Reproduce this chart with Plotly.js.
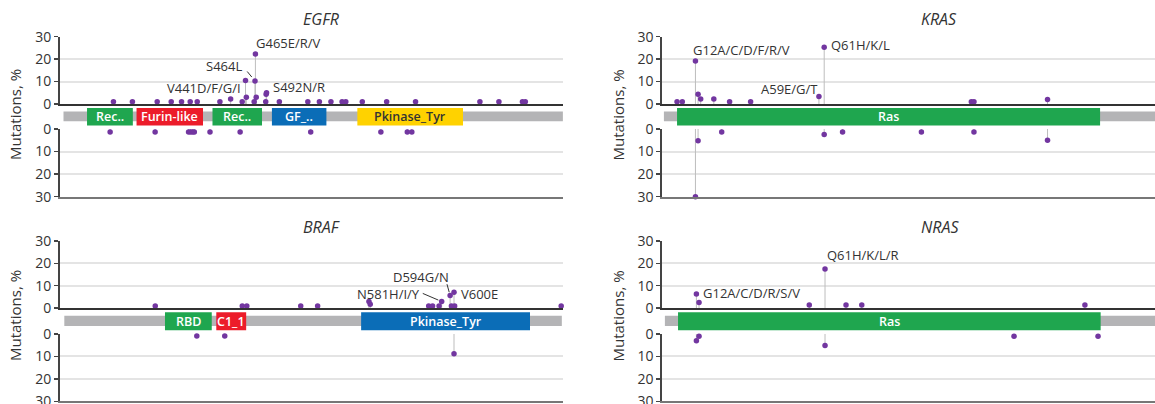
<!DOCTYPE html>
<html><head><meta charset="utf-8">
<script src="https://cdn.plot.ly/plotly-3.0.1.min.js"></script>
<style>html,body{margin:0;padding:0;background:#fff;overflow:hidden}#chart{width:1155px;height:404px}</style>
</head><body><div id="chart"></div>
<script>
// ---------------- DATA ----------------
// EGFR
const egfrLength = 1210;
const egfrDomainNames = ['Rec..', 'Furin-like', 'Rec..', 'GF_..', 'Pkinase_Tyr'];
const egfrDomainStart = [57, 177, 361, 505, 712];
const egfrDomainEnd = [168, 338, 481, 637, 968];
const egfrTopPos = [121, 167, 227, 261, 286, 307, 324, 379, 405, 433, 441, 443, 462, 464, 465, 467, 490, 491, 492, 523, 592, 620, 648, 675, 684, 724, 783, 853, 1009, 1055, 1112, 1119];
const egfrTopPct = [1.0, 1.0, 1.0, 1.0, 1.0, 1.0, 1.0, 1.0, 2.2, 1.0, 10.5, 3.0, 1.0, 10.3, 22.3, 3.0, 1.0, 4.4, 5.0, 1.0, 1.0, 1.0, 1.0, 1.0, 1.0, 1.0, 1.0, 1.0, 1.0, 1.0, 1.0, 1.0];
const egfrBottomPos = [113, 222, 303, 308, 313, 317, 355, 428, 599, 769, 833, 844];
const egfrBottomPct = [1.3, 1.3, 1.3, 1.3, 1.3, 1.3, 1.3, 1.3, 1.3, 1.3, 1.3, 1.3];
const egfrLabelText = ['V441D/F/G/I', 'S464L', 'G465E/R/V', 'S492N/R'];
const egfrLabelPos = [441, 464, 465, 492];
const egfrLabelPct = [10.5, 10.3, 22.3, 5.0];

// KRAS
const krasLength = 189;
const krasDomainNames = ['Ras'];
const krasDomainStart = [5];
const krasDomainEnd = [166];
const krasTopPos = [5, 7, 12, 13, 14, 19, 25, 33, 59, 61, 117, 118, 146];
const krasTopPct = [1.0, 1.0, 19.2, 4.3, 2.2, 2.2, 1.0, 1.0, 3.3, 25.3, 1.0, 1.0, 2.0];
const krasBottomPos = [12, 13, 22, 61, 68, 98, 118, 146];
const krasBottomPct = [30.0, 5.2, 1.3, 2.4, 1.3, 1.3, 1.3, 5.0];
const krasLabelText = ['G12A/C/D/F/R/V', 'A59E/G/T', 'Q61H/K/L'];
const krasLabelPos = [12, 59, 61];
const krasLabelPct = [19.2, 3.3, 25.3];

// BRAF
const brafLength = 766;
const brafDomainNames = ['RBD', 'C1_1', 'Pkinase_Tyr'];
const brafDomainStart = [155, 234, 457];
const brafDomainEnd = [227, 280, 717];
const brafTopPos = [140, 274, 281, 364, 390, 469, 471, 561, 567, 577, 581, 594, 596, 600, 601, 765];
const brafTopPct = [0.9, 0.9, 0.9, 0.9, 0.9, 2.9, 1.7, 0.9, 0.9, 0.9, 2.9, 5.6, 0.9, 7.1, 0.9, 0.9];
const brafBottomPos = [204, 247, 600];
const brafBottomPct = [0.9, 0.9, 8.8];
const brafLabelText = ['N581H/I/Y', 'D594G/N', 'V600E'];
const brafLabelPos = [581, 594, 600];
const brafLabelPct = [2.9, 5.6, 7.1];

// NRAS
const nrasLength = 189;
const nrasDomainNames = ['Ras'];
const nrasDomainStart = [5];
const nrasDomainEnd = [166];
const nrasTopPos = [12, 13, 55, 61, 69, 75, 160];
const nrasTopPct = [6.3, 2.5, 1.3, 17.5, 1.3, 1.3, 1.3];
const nrasBottomPos = [12, 13, 61, 133, 165];
const nrasBottomPct = [3.0, 1.0, 5.1, 1.0, 1.0];
const nrasLabelText = ['G12A/C/D/R/S/V', 'Q61H/K/L/R'];
const nrasLabelPos = [12, 61];
const nrasLabelPct = [6.3, 17.5];

const yTicks = [0, 10, 20, 30];
const yTitle = 'Mutations, %';

// ---------------- STYLE / LAYOUT ----------------
const W = 1155, H = 404;
const FONT = 'Open Sans, sans-serif';
const TXT = '#333333';
const DOT = '#7236a0';
const STEM = '#bdbdbd';
const GREEN = '#1fa64f', RED = '#ec1c2a', BLUE = '#0b6db7', YELLOW = '#ffd200', BAR = '#b4b4b6';
const fy = px => 1 - px / H;
const fx = px => px / W;

const panels = [
  { name: 'EGFR', len: egfrLength, dn: egfrDomainNames, ds: egfrDomainStart, de: egfrDomainEnd,
    tp: egfrTopPos, tv: egfrTopPct, bp: egfrBottomPos, bv: egfrBottomPct,
    lt: egfrLabelText, lp: egfrLabelPos, lv: egfrLabelPct,
    colors: [GREEN, RED, GREEN, BLUE, YELLOW], textColors: ['#fff', '#fff', '#fff', '#fff', '#333'],
    xpx: [59.5, 563], range: [-9.7, 1210.3], row: 0, titleX: 321, ytitleX: 15,
    lab: [
      { xa: 'right', xs: -3, ys: -7.3 },
      { xa: 'right', xs: -10.7, ys: 15.2, lead: { ax: -8.3, ay: -10, so: 5 } },
      { xa: 'left', xs: -1.4, ys: 10.7 },
      { xa: 'left', xs: 4.2, ys: 5.5 }
    ] },
  { name: 'KRAS', len: krasLength, dn: krasDomainNames, ds: krasDomainStart, de: krasDomainEnd,
    tp: krasTopPos, tv: krasTopPct, bp: krasBottomPos, bv: krasBottomPct,
    lt: krasLabelText, lp: krasLabelPos, lv: krasLabelPct,
    colors: [GREEN], textColors: ['#fff'],
    xpx: [661.7, 1155], range: [-0.84, 186.9], row: 0, titleX: 939.3, ytitleX: 617.5,
    lab: [
      { xa: 'left', xs: -4.7, ys: 10.9 },
      { xa: 'right', xs: 1.4, ys: 7.3 },
      { xa: 'left', xs: 4.6, ys: 2.2 }
    ] },
  { name: 'BRAF', len: brafLength, dn: brafDomainNames, ds: brafDomainStart, de: brafDomainEnd,
    tp: brafTopPos, tv: brafTopPct, bp: brafBottomPos, bv: brafBottomPct,
    lt: brafLabelText, lp: brafLabelPos, lv: brafLabelPct,
    colors: [GREEN, RED, BLUE], textColors: ['#fff', '#fff', '#fff'],
    xpx: [59.5, 563], range: [-7.4, 767.8], row: 1, titleX: 321, ytitleX: 15,
    lab: [
      { xa: 'right', xs: -19.7, ys: 7.6, lead: { ax: -19.4, ay: -8.3, so: 3.6 } },
      { xa: 'right', xs: 1, ys: 18.6, lead: { ax: -3.4, ay: -12.3, so: 3.4 } },
      { xa: 'left', xs: 5.3, ys: -1.4 }
    ] },
  { name: 'NRAS', len: nrasLength, dn: nrasDomainNames, ds: nrasDomainStart, de: nrasDomainEnd,
    tp: nrasTopPos, tv: nrasTopPct, bp: nrasBottomPos, bv: nrasBottomPct,
    lt: nrasLabelText, lp: nrasLabelPos, lv: nrasLabelPct,
    colors: [GREEN], textColors: ['#fff'],
    xpx: [661.7, 1155], range: [-1.22, 186.7], row: 1, titleX: 940, ytitleX: 617.5,
    lab: [
      { xa: 'left', xs: 4.3, ys: 0.7 },
      { xa: 'left', xs: -0.4, ys: 13.6 }
    ] }
];

const rows = [
  { top: [36.7, 104], mid: [104, 129], bot: [129, 196.7], title: 19, ytitle: 115 },
  { top: [241, 308], mid: [308, 334], bot: [334, 401.3], title: 227.5, ytitle: 316 }
];

const layout = {
  width: W, height: H, margin: { l: 0, r: 0, t: 0, b: 0 },
  paper_bgcolor: '#fff', plot_bgcolor: 'rgba(0,0,0,0)',
  showlegend: false, font: { family: FONT, color: TXT },
  shapes: [], annotations: []
};
const traces = [];

function yAxisStyle(domain, range) {
  return {
    domain: domain, range: range, tickvals: yTicks, ticktext: yTicks.map(String),
    showgrid: true, gridcolor: '#e4e4e4', gridwidth: 2, zeroline: false,
    showline: true, linecolor: '#444', linewidth: 1.5,
    ticks: 'outside', ticklen: 4, tickwidth: 1.5, tickcolor: '#444', ticklabeloverflow: 'allow',
    tickfont: { family: FONT, size: 14, color: TXT }, fixedrange: true
  };
}

panels.forEach((p, i) => {
  const r = rows[p.row];
  const xTop = 2 * i + 1, xBot = 2 * i + 2;
  const yT = 3 * i + 1, yM = 3 * i + 2, yB = 3 * i + 3;
  const xd = [fx(p.xpx[0]), fx(p.xpx[1])];
  const xn = k => 'xaxis' + (k === 1 ? '' : k);
  const yn = k => 'yaxis' + (k === 1 ? '' : k);
  const xr = k => 'x' + (k === 1 ? '' : k);
  const yr = k => 'y' + (k === 1 ? '' : k);

  layout[xn(xTop)] = { domain: xd, range: p.range, anchor: yr(yT), showline: true, linecolor: '#333', linewidth: 1.5,
    showticklabels: false, ticks: '', showgrid: false, zeroline: false, fixedrange: true };
  layout[xn(xBot)] = { domain: xd, range: p.range, anchor: yr(yB), showline: true, linecolor: '#777', linewidth: 2,
    showticklabels: false, ticks: '', showgrid: false, zeroline: false, fixedrange: true };
  layout[yn(yT)] = Object.assign(yAxisStyle([fy(r.top[1]), fy(r.top[0])], [0, 30]), { anchor: xr(xTop) });
  layout[yn(yB)] = Object.assign(yAxisStyle([fy(r.bot[1]), fy(r.bot[0])], [30, 0]), { anchor: xr(xBot) });
  layout[yn(yM)] = { domain: [fy(r.mid[1]), fy(r.mid[0])], range: [0, 1], anchor: xr(xTop), visible: false, fixedrange: true };

  // protein backbone bar
  layout.shapes.push({ type: 'rect', xref: xr(xTop), yref: yr(yM), x0: 0, x1: p.len, y0: 0.31, y1: 0.70,
    fillcolor: BAR, line: { width: 0 }, layer: 'above' });
  // domains
  p.dn.forEach((d, k) => {
    layout.shapes.push({ type: 'rect', xref: xr(xTop), yref: yr(yM), x0: p.ds[k], x1: p.de[k], y0: 0.14, y1: 0.84,
      fillcolor: p.colors[k], line: { width: 0 }, layer: 'above' });
    layout.annotations.push({ xref: xr(xTop), yref: yr(yM), x: (p.ds[k] + p.de[k]) / 2, y: 0.49, text: d,
      showarrow: false, font: { family: FONT, size: 12.5, weight: 600, color: p.textColors[k] } });
  });

  const dotStyle = { color: DOT, size: 5.5 };
  traces.push({ type: 'scatter', mode: 'markers', x: p.tp, y: p.tv, xaxis: xr(xTop), yaxis: yr(yT),
    marker: dotStyle, cliponaxis: false, hoverinfo: 'skip',
    error_y: { type: 'data', symmetric: false, array: p.tv.map(() => 0), arrayminus: p.tv, width: 0, color: STEM, thickness: 1 } });
  traces.push({ type: 'scatter', mode: 'markers', x: p.bp, y: p.bv, xaxis: xr(xBot), yaxis: yr(yB),
    marker: dotStyle, cliponaxis: false, hoverinfo: 'skip',
    error_y: { type: 'data', symmetric: false, array: p.bv.map(() => 0), arrayminus: p.bv, width: 0, color: STEM, thickness: 1 } });

  // mutation labels
  p.lt.forEach((t, k) => {
    const s = p.lab[k];
    layout.annotations.push({ xref: xr(xTop), yref: yr(yT), x: p.lp[k], y: p.lv[k], text: t, showarrow: false,
      xanchor: s.xa, yanchor: 'middle', xshift: s.xs, yshift: s.ys, font: { family: FONT, size: 13, color: TXT } });
    if (s.lead) {
      layout.annotations.push({ xref: xr(xTop), yref: yr(yT), x: p.lp[k], y: p.lv[k], text: ' ', showarrow: true,
        arrowhead: 0, arrowwidth: 1, arrowcolor: '#333', ax: s.lead.ax, ay: s.lead.ay, standoff: s.lead.so,
        font: { size: 1 }, borderpad: 0 });
    }
  });

  // gene title
  layout.annotations.push({ xref: 'paper', yref: 'paper', x: fx(p.titleX), y: fy(r.title), text: '<i>' + p.name + '</i>',
    showarrow: false, xanchor: 'center', yanchor: 'middle', font: { family: FONT, size: 16, color: TXT } });
  // y title
  layout.annotations.push({ xref: 'paper', yref: 'paper', x: fx(p.ytitleX), y: fy(r.ytitle), text: yTitle,
    textangle: -90, showarrow: false, xanchor: 'center', yanchor: 'middle', font: { family: FONT, size: 15, color: TXT } });
});

Plotly.newPlot('chart', traces, layout, { staticPlot: true, displayModeBar: false });
</script>
</body></html>
